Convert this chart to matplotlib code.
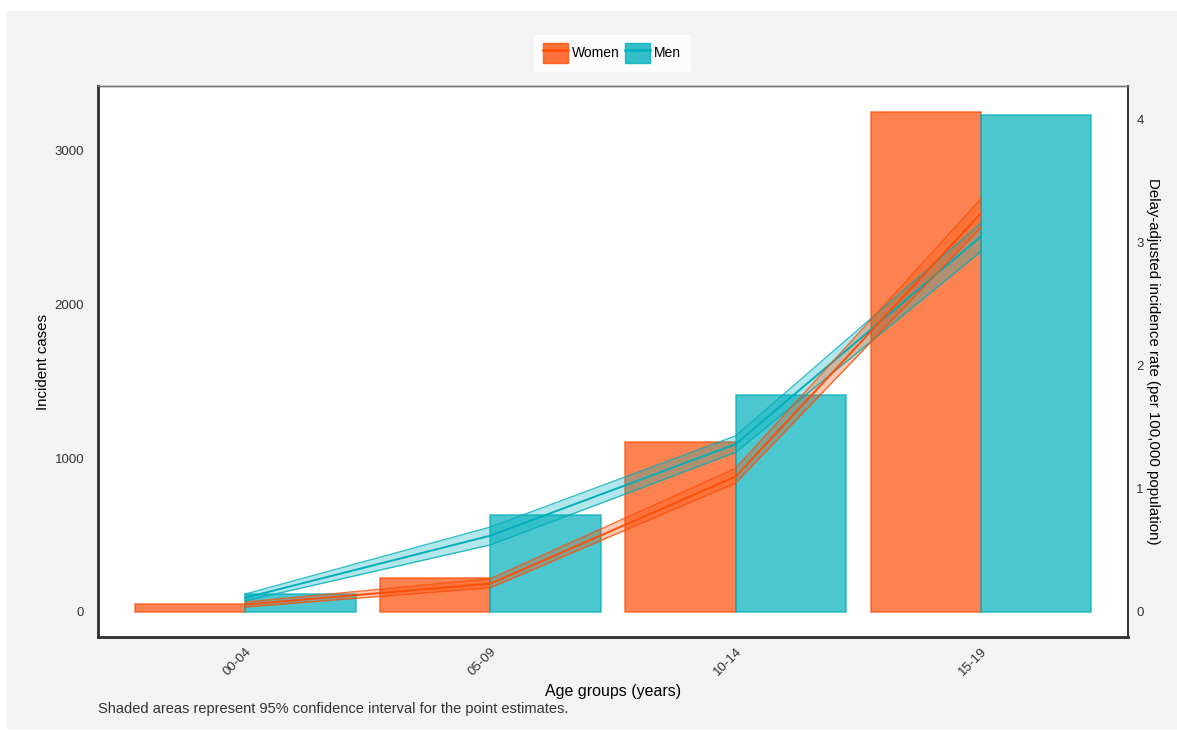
import matplotlib
matplotlib.use("Agg")
import matplotlib.pyplot as plt
import numpy as np
from matplotlib.patches import Patch, Rectangle
from matplotlib.lines import Line2D
from matplotlib.legend_handler import HandlerTuple

plt.rcParams['font.family'] = ['Liberation Sans', 'DejaVu Sans']

# Data
age_groups = ["00-04", "05-09", "10-14", "15-19"]
women_cases = [50, 221, 1102, 3253]
men_cases = [114, 632, 1413, 3234]

women_rate = [0.06, 0.23, 1.10, 3.24]
women_lo = [0.04, 0.197, 1.048, 3.125]
women_hi = [0.08, 0.27, 1.167, 3.357]

men_rate = [0.115, 0.62, 1.364, 3.052]
men_lo = [0.09, 0.545, 1.297, 2.93]
men_hi = [0.145, 0.69, 1.431, 3.16]

SCALE = 800  # cases per rate unit on secondary axis

WOMEN = "#FC4E07"
MEN = "#00AFBB"

W, H = 1177, 730
fig = plt.figure(figsize=(W / 100, H / 100), dpi=100, facecolor="white")

# gray plot background
fig.patches.append(Rectangle((7 / W, 1 / H), (W - 7) / W, 718 / H,
                             transform=fig.transFigure, facecolor="#f3f3f3",
                             edgecolor="none", zorder=-10))

ax = fig.add_axes([98 / W, (H - 637) / H, (1128 - 98) / W, (637 - 86) / H])
ax.set_facecolor("white")
x = np.arange(len(age_groups))
bw = 0.45
ax.bar(x - bw / 2, women_cases, width=bw, facecolor=WOMEN, alpha=0.7,
       edgecolor=WOMEN, linewidth=1.2)
ax.bar(x + bw / 2, men_cases, width=bw, facecolor=MEN, alpha=0.7,
       edgecolor=MEN, linewidth=1.2)

ylo, yhi = -163, 3420
ax.set_xlim(-0.6, 3.6)
ax.set_ylim(ylo, yhi)
ax.set_yticks([0, 1000, 2000, 3000])
ax.set_xticks(x)
ax.set_xticklabels(age_groups, rotation=45, ha="right", rotation_mode="anchor")
ax.tick_params(axis="both", length=0, labelsize=9.5, colors="#333333")
ax.tick_params(axis="y", pad=10)
ax.tick_params(axis="x", pad=6)
ax.set_ylabel("Incident cases", fontsize=10.8, labelpad=3)
ax.set_xlabel("Age groups (years)", fontsize=11.5, labelpad=4)

ax2 = ax.twinx()
ax2.set_ylim(ylo / SCALE, yhi / SCALE)
ax2.set_yticks([0, 1, 2, 3, 4])
ax2.tick_params(axis="y", length=0, labelsize=9.5, colors="#333333", pad=6)
ax2.set_ylabel("Delay-adjusted incidence rate (per 100,000 population)",
               fontsize=10.8, rotation=-90, labelpad=12)

for rate, lo, hi, col in [(men_rate, men_lo, men_hi, MEN),
                          (women_rate, women_lo, women_hi, WOMEN)]:
    ax2.fill_between(x, lo, hi, color=col, alpha=0.3, linewidth=0)
    ax2.plot(x, lo, color=col, lw=1, alpha=0.8)
    ax2.plot(x, hi, color=col, lw=1, alpha=0.8)
    ax2.plot(x, rate, color=col, lw=1.4)

for a in (ax, ax2):
    a.spines["left"].set_color("#333333")
    a.spines["left"].set_linewidth(1.8)
    a.spines["bottom"].set_color("#333333")
    a.spines["bottom"].set_linewidth(1.8)
    a.spines["top"].set_color("#777777")
    a.spines["top"].set_linewidth(1.0)
    a.spines["right"].set_color("#333333")
    a.spines["right"].set_linewidth(1.2)

# legend
handles = [(Patch(facecolor=WOMEN, alpha=0.8, edgecolor=WOMEN),
            Line2D([], [], color=WOMEN, lw=1.8)),
           (Patch(facecolor=MEN, alpha=0.8, edgecolor=MEN),
            Line2D([], [], color=MEN, lw=1.8))]
leg = fig.legend(handles, ["Women", "Men"], loc="center",
                 bbox_to_anchor=(612 / W, 1 - 53 / H), ncol=2,
                 handler_map={tuple: HandlerTuple(ndivide=1)},
                 frameon=True, fancybox=False, fontsize=10,
                 handlelength=1.8, handleheight=1.8, handletextpad=0.3,
                 columnspacing=0.4, borderpad=0.6)
leg.get_frame().set_facecolor("white")
leg.get_frame().set_edgecolor("white")

fig.text(98 / W, 1 - 709 / H,
         "Shaded areas represent 95% confidence interval for the point estimates.",
         fontsize=10.5, color="#333333", ha="left", va="center")

fig.savefig("out.png", dpi=100, facecolor="white")
